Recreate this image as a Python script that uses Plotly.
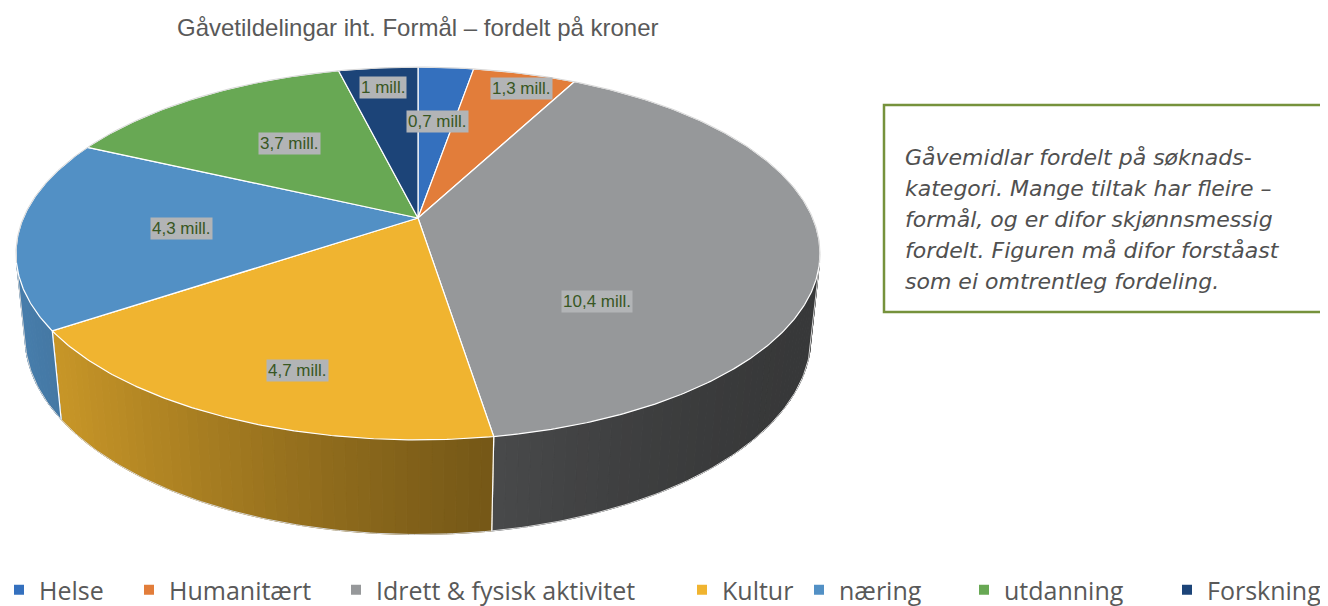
import numpy as np
import plotly.graph_objects as go

# ---------------- data ----------------
categories = ["Helse", "Humanitært", "Idrett & fysisk aktivitet", "Kultur",
              "næring", "utdanning", "Forskning"]
values = [0.7, 1.3, 10.4, 4.7, 4.3, 3.7, 1.0]          # mill. kr
colors = ["#3470BE", "#E27D3A", "#96989A", "#F0B430",
          "#5290C5", "#68A854", "#1C4478"]
title_text = "Gåvetildelingar iht. Formål – fordelt på kroner"
note_lines = ["Gåvemidlar fordelt på søknads-",
              "kategori. Mange tiltak har fleire –",
              "formål, og er difor skjønnsmessig",
              "fordelt. Figuren må difor forståast",
              "som ei omtrentleg fordeling."]

# ---------------- layout / projection settings ----------------
PAGE_OFF = 8                 # default body margin of the html page
W, Hpx = 1328, 606
CX, CY = 418, 218            # projected pie centre (pixels)
FX, FY = 1855, 1886          # focal scale
DIST = 4.70                  # camera distance (in pie radii)
PHI = np.radians(26.6)       # camera elevation
THICK = 0.233                # pie thickness (in pie radii)
C, S = np.cos(PHI), np.sin(PHI)
LABEL_POS = [(437, 121), (521, 88), (597, 301), (297, 370),
             (181, 228), (289, 143), (383, 87)]
LEGEND_TEXT_X = [40, 170, 377, 723, 840, 1005, 1208]   # legend entry text starts
LEGEND_Y = 590


def proj(theta_deg, r=1.0, z=0.0):
    t = np.radians(theta_deg)
    X = r * np.sin(t)
    Y = r * np.cos(t)
    depth = DIST + Y * C - z * S
    return CX + FX * X / depth, CY - FY * (Y * S + z * C) / depth


def hex_rgb(h):
    h = h.lstrip("#")
    return tuple(int(h[i:i + 2], 16) for i in (0, 2, 4))


total = sum(values)
bounds = np.concatenate([[0], np.cumsum(values)]) / total * 360.0
lim = np.degrees(np.arccos(-1.0 / (DIST * C)))
V1, V2 = lim, 360 - lim

fig = go.Figure()

# ---- side walls (gradient strips) ----
for i, col in enumerate(colors):
    a, b = bounds[i], bounds[i + 1]
    lo, hi = max(a, V1), min(b, V2)
    if hi <= lo:
        continue
    n = max(1, int(np.ceil((hi - lo) / 1.5)))
    edges = np.linspace(lo, hi, n + 1)
    base = hex_rgb(col)
    for k in range(n):
        ts = np.linspace(edges[k], edges[k + 1], 4)
        xt, yt = proj(ts)
        xb, yb = proj(ts[::-1], z=-THICK)
        xs = np.concatenate([xt, xb, xt[:1]])
        ys = np.concatenate([yt, yb, yt[:1]])
        u = np.clip((xt.mean() - 17) / 803, 0, 1)
        f = 0.37 + 0.5 * (1 - u) ** 1.6
        rgb = "rgb(%d,%d,%d)" % tuple(int(c * f) for c in base)
        fig.add_trace(go.Scatter(x=xs, y=ys, mode="lines", fill="toself",
                                 fillcolor=rgb, line=dict(color=rgb, width=1),
                                 hoverinfo="skip", showlegend=False))
    for t in (a, b):
        if V1 < t < V2:
            x0, y0 = proj(t)
            x1, y1 = proj(t, z=-THICK)
            fig.add_trace(go.Scatter(x=[x0, x1], y=[y0, y1], mode="lines",
                                     line=dict(color="white", width=1.2),
                                     hoverinfo="skip", showlegend=False))

# ---- wall silhouette outline ----
tb = np.linspace(V1, V2, 200)
xb, yb = proj(tb, z=-THICK)
xa, ya = proj(V1)
xz, yz = proj(V2)
fig.add_trace(go.Scatter(x=np.concatenate([[xa], xb, [xz]]),
                         y=np.concatenate([[ya], yb, [yz]]),
                         mode="lines", line=dict(color="rgb(215,215,215)", width=1),
                         hoverinfo="skip", showlegend=False))

# ---- top slices ----
for i, col in enumerate(colors):
    a, b = bounds[i], bounds[i + 1]
    ts = np.linspace(a, b, max(3, int((b - a) / 0.5)))
    xr, yr = proj(ts)
    xs = np.concatenate([[CX], xr, [CX]])
    ys = np.concatenate([[CY], yr, [CY]])
    fig.add_trace(go.Scatter(x=xs, y=ys, mode="lines", fill="toself",
                             fillcolor=col, line=dict(color="white", width=1.2),
                             name=categories[i], hoverinfo="name",
                             showlegend=False))

tr = np.linspace(V2, V1 + 360, 300)
xr, yr = proj(tr)
fig.add_trace(go.Scatter(x=xr, y=yr, mode="lines",
                         line=dict(color="rgb(215,215,215)", width=1),
                         hoverinfo="skip", showlegend=False))

FW, FH = W - PAGE_OFF, Hpx - PAGE_OFF

# ---- legend entries (one single-item legend per category) ----
legend_layouts = {}
for i, (name, col) in enumerate(zip(categories, colors)):
    lid = "legend" if i == 0 else "legend%d" % (i + 1)
    fig.add_trace(go.Scatter(x=[None], y=[None], mode="markers", name=name,
                             legend=lid, showlegend=True,
                             marker=dict(symbol="square", size=10, color=col)))
    legend_layouts[lid] = dict(
        orientation="h", x=(LEGEND_TEXT_X[i] - 41 - PAGE_OFF) / FW,
        xanchor="left", y=(Hpx - LEGEND_Y) / FH, yanchor="middle",
        font=dict(family="Open Sans", size=25, color="rgb(89,89,89)"),
        itemwidth=30, bgcolor="rgba(0,0,0,0)")

annotations = []
for v, (lx, ly) in zip(values, LABEL_POS):
    txt = ("%g" % v).replace(".", ",") + " mill."
    annotations.append(dict(x=lx, y=ly, xref="x", yref="y", text=txt,
                            showarrow=False, bgcolor="rgb(178,180,182)",
                            borderpad=1,
                            font=dict(family="Liberation Sans", size=17,
                                      color="rgb(56,87,35)")))
annotations.append(dict(x=418, y=27, xref="x", yref="y", text=title_text,
                        showarrow=False,
                        font=dict(family="Liberation Sans", size=24,
                                  color="rgb(89,89,89)")))
for k, line in enumerate(note_lines):
    annotations.append(dict(x=903, y=157 + 31 * k, xref="x", yref="y",
                            text=line, showarrow=False, xanchor="left",
                            font=dict(family="DejaVu Sans", size=22,
                                      color="rgb(80,80,80)", style="italic",
                                      weight=200)))

fig.update_layout(
    width=FW, height=FH,
    margin=dict(l=0, r=0, t=0, b=0, autoexpand=False),
    paper_bgcolor="white", plot_bgcolor="white",
    xaxis=dict(range=[PAGE_OFF, W], visible=False, fixedrange=True),
    yaxis=dict(range=[Hpx, PAGE_OFF], visible=False, fixedrange=True),
    showlegend=True,
    annotations=annotations,
    shapes=[dict(type="rect", xref="x", yref="y", x0=884, y0=105, x1=1345,
                 y1=312, line=dict(color="rgb(118,146,60)", width=2.5))],
    **legend_layouts,
)

fig.write_html("out.html")
